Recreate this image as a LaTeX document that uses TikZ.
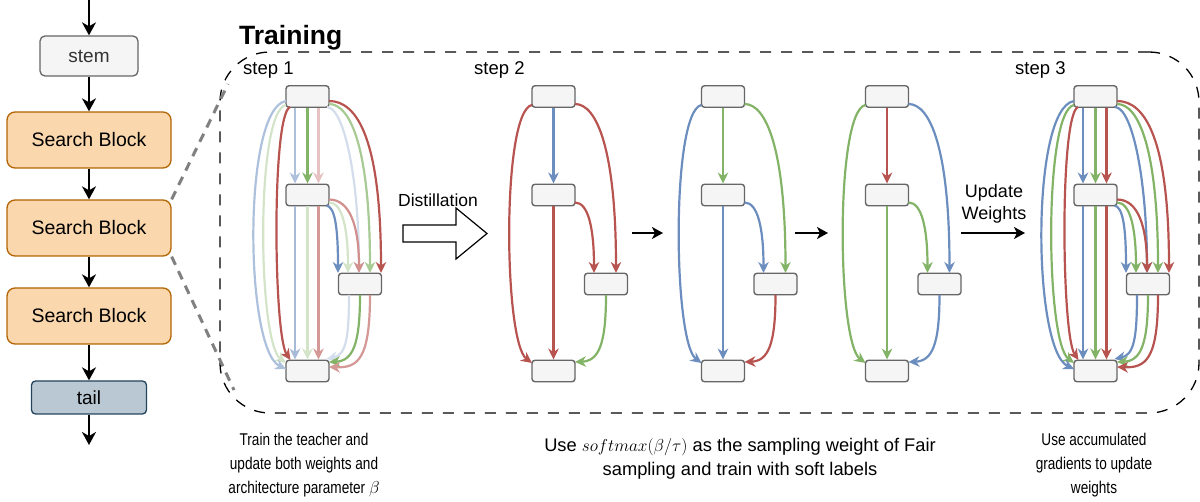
\documentclass[tikz,border=0pt]{standalone}
\usepackage{fontspec}
\setmainfont{Liberation Sans}
\newfontfamily\narrowsans[FakeStretch=0.8]{Liberation Sans}
\usetikzlibrary{arrows.meta,calc}

\definecolor{cR}{HTML}{B85450}
\definecolor{cB}{HTML}{6C8EBF}
\definecolor{cG}{HTML}{82B366}
\definecolor{boxfill}{HTML}{F5F5F5}
\definecolor{boxline}{HTML}{666666}
\definecolor{sbfill}{HTML}{FAD7AC}
\definecolor{sbline}{HTML}{B46504}
\definecolor{tailfill}{HTML}{BAC8D3}
\definecolor{tailline}{HTML}{23445D}
\definecolor{stemtext}{HTML}{333333}
\definecolor{zoomgray}{HTML}{808080}

\newcommand\fsz[2]{\fontsize{#1}{#2}\selectfont}

\tikzset{
  cell/.style={draw=boxline, fill=boxfill, line width=1.4pt, rounded corners=3pt,
    minimum width=43pt, minimum height=21.5pt, inner sep=0pt},
  flow/.style={line width=2.2pt, -{Stealth[length=11pt,width=10.5pt,inset=3.5pt]}},
  blk/.style={line width=1.7pt, -{Stealth[length=13pt,width=14pt,inset=4pt]}},
  harrow/.style={line width=1.5pt, -{Stealth[length=11pt,width=12pt,inset=3pt]}},
  stembox/.style={draw=boxline, fill=boxfill, line width=1.3pt, rounded corners=5pt,
    minimum width=98pt, minimum height=40pt, inner sep=0pt, text=stemtext, font=\fsz{19}{22}},
  sbbox/.style={draw=sbline, fill=sbfill, line width=1.3pt, rounded corners=8pt,
    minimum width=164pt, minimum height=56pt, inner sep=0pt, font=\fsz{19.5}{22}},
  tailbox/.style={draw=tailline, fill=tailfill, line width=1.3pt, rounded corners=4pt,
    minimum width=115pt, minimum height=33pt, inner sep=0pt, font=\fsz{19}{22}},
  framebox/.style={draw, line width=1.3pt, dash pattern=on 11pt off 10pt,
    rounded corners=50pt, minimum width=979pt, minimum height=361pt, inner sep=0pt},
  zoomline/.style={draw=zoomgray, line width=3pt, dash pattern=on 9pt off 7pt},
  steplbl/.style={anchor=base west, inner sep=0pt, font=\fsz{18.5}{22}},
  sidenote/.style={align=center, inner sep=0pt, font=\narrowsans\fsz{17}{24}},
  midnote/.style={align=center, inner sep=0pt, font=\fsz{18.3}{24}},
}

% one cubic connector between two cells
\newcommand\flowcurve[5]{\draw[flow,#1] ($#2$) .. controls ($#3$) and ($#4$) .. ($#5$);}

% the four cells of one block: input (0), middle (1), side (2), output (3)
\newcommand\cellnodes[2]{%
  \node[cell] (#10) at (#2,96.5) {};
  \node[cell] (#11) at (#2,195) {};
  \node[cell] (#12) at ({#2+52.5},284) {};
  \node[cell] (#13) at (#2,371) {};}

% straight connectors 0->1 and 1->3 (prefix, colour, horizontal offset)
\newcommand\eVertA[3]{\draw[flow,#2] ([xshift=#3]#10.south) -- ([xshift=#3]#11.north);}
\newcommand\eVertB[3]{\draw[flow,#2] ([xshift=#3]#11.south) -- ([xshift=#3]#13.north);}
% 0->3 around the left side (outer, middle, inner)
\newcommand\eLeftB[2]{\flowcurve{#2}{(#10)+(-21.5,4.5)}{(#10)+(-65,11.5)}{(#13)+(-63,-21)}{(#13)+(-21.5,-2)}}
\newcommand\eLeftG[2]{\flowcurve{#2}{(#10)+(-21.5,8.5)}{(#10)+(-52,14.5)}{(#13)+(-50,-29)}{(#13)+(-21.5,-8)}}
\newcommand\eLeftR[2]{\flowcurve{#2}{(#10)+(-17.5,10.5)}{(#10)+(-36,18.5)}{(#13)+(-34,-36)}{(#13)+(-17,-11)}}
% 0->2 around the right side (inner, middle, outer)
\newcommand\eRightB[2]{\flowcurve{#2}{(#10)+(19.5,10.5)}{(#10)+(37,11.5)}{(#12)+(-1,-104)}{(#12)+(-1,-11)}}
\newcommand\eRightG[2]{\flowcurve{#2}{(#10)+(21.5,7.5)}{(#10)+(43.5,7.5)}{(#12)+(10,-134)}{(#12)+(10,-11)}}
\newcommand\eRightR[2]{\flowcurve{#2}{(#10)+(21.5,4.5)}{(#10)+(50,4.5)}{(#12)+(21,-144)}{(#12)+(21,-11)}}
% 1->2
\newcommand\eMidB[2]{\flowcurve{#2}{(#11)+(19,10.5)}{(#11)+(27,12)}{(#12)+(-22,-59)}{(#12)+(-22,-11)}}
\newcommand\eMidG[2]{\flowcurve{#2}{(#11)+(21.5,7.5)}{(#11)+(35,7.5)}{(#12)+(-12,-55)}{(#12)+(-12,-11)}}
\newcommand\eMidR[2]{\flowcurve{#2}{(#11)+(21.5,4.5)}{(#11)+(42,4.5)}{(#12)+(-1,-59)}{(#12)+(-1,-11)}}
% 2->3
\newcommand\eLowB[2]{\flowcurve{#2}{(#12)+(-11,11)}{(#12)+(-11,56)}{(#13)+(38,-16)}{(#13)+(19,-12)}}
\newcommand\eLowG[2]{\flowcurve{#2}{(#12)+(0,11)}{(#12)+(0,61)}{(#13)+(45,-10)}{(#13)+(21.5,-9)}}
\newcommand\eLowR[2]{\flowcurve{#2}{(#12)+(10,11)}{(#12)+(10,76)}{(#13)+(50,-3)}{(#13)+(21.5,-4)}}

% a sampled block: one colour per connector (0-1, 0-3, 0-2, 1-2, 1-3, 2-3)
\newcommand\singlecell[7]{%
  \eVertA{#1}{#2}{0pt}
  \eLeftG{#1}{#3}
  \eRightG{#1}{#4}
  \eMidG{#1}{#5}
  \eVertB{#1}{#6}{0pt}
  \eLowG{#1}{#7}}

\begin{document}
\begin{tikzpicture}[x=1pt,y=-1pt]
\useasboundingbox (0,0) rectangle (1200,502);

% ---------------- network column ----------------
\coordinate (netin) at (89,0);
\coordinate (netout) at (89,445);
\node[stembox] (stem) at (89,56) {stem};
\node[sbbox] (sb1) at (89,140) {Search Block};
\node[sbbox] (sb2) at (89,228) {Search Block};
\node[sbbox] (sb3) at (89,316) {Search Block};
\node[tailbox] (tail) at (89,397.5) {tail};
\draw[blk] (netin) -- (stem);
\draw[blk] (stem) -- (sb1);
\draw[blk] (sb1) -- (sb2);
\draw[blk] (sb2) -- (sb3);
\draw[blk] (sb3) -- (tail);
\draw[blk] (tail) -- (netout);

% ---------------- training frame ----------------
\node[framebox] (train) at (709.5,232.5) {};
\coordinate (zoomtop) at (228,84);
\coordinate (zoombot) at (234,390);
\draw[zoomline] (sb2.north east) -- (zoomtop);
\draw[zoomline] (sb2.south east) -- (zoombot);

\node[anchor=base west, inner sep=0pt, font=\fsz{26.5}{30}\bfseries] (title) at (239,45) {Training};
\node[steplbl] (lbl1) at (243,75) {step 1};
\node[steplbl] (lbl2) at (474,75) {step 2};
\node[steplbl] (lbl3) at (1015,75) {step 3};

% ---------------- the five blocks ----------------
\cellnodes{a}{307.5}
\cellnodes{b}{553.5}
\cellnodes{c}{723}
\cellnodes{d}{887}
\cellnodes{e}{1095.5}

% step 1: all candidate paths, faded by weight
\eVertA{a}{cB!55!white}{-12.5pt}
\eVertA{a}{cG}{0pt}
\eVertA{a}{cR!35!white}{11pt}
\eVertB{a}{cB!60!white}{-12.5pt}
\eVertB{a}{cG!35!white}{0pt}
\eVertB{a}{cR!60!white}{11pt}
\eLeftR{a}{cR}
\eLeftG{a}{cG!35!white}
\eLeftB{a}{cB!55!white}
\eRightB{a}{cB!30!white}
\eRightG{a}{cG!70!white}
\eRightR{a}{cR}
\eMidB{a}{cB}
\eMidG{a}{cG!35!white}
\eMidR{a}{cR!65!white}
\eLowB{a}{cB!30!white}
\eLowG{a}{cG}
\eLowR{a}{cR!60!white}

% step 2: sampled paths
\singlecell{b}{cB}{cR}{cR}{cR}{cR}{cG}
\singlecell{c}{cG}{cB}{cG}{cB}{cB}{cR}
\singlecell{d}{cR}{cG}{cB}{cG}{cG}{cB}

% step 3: accumulated paths
\eVertA{e}{cB}{-12.5pt}
\eVertA{e}{cG}{0pt}
\eVertA{e}{cR}{11pt}
\eVertB{e}{cB}{-12.5pt}
\eVertB{e}{cG}{0pt}
\eVertB{e}{cR}{11pt}
\eLeftR{e}{cR}
\eLeftG{e}{cG}
\eLeftB{e}{cB}
\eRightB{e}{cB}
\eRightG{e}{cG}
\eRightR{e}{cR}
\eMidB{e}{cB}
\eMidG{e}{cG}
\eMidR{e}{cR}
\eLowB{e}{cB}
\eLowG{e}{cG}
\eLowR{e}{cR}

% ---------------- arrows between the steps ----------------
\draw[line width=1.2pt, fill=white] (403,225) -- (456,225) -- (456,208) -- (487,233.5)
  -- (456,259) -- (456,242) -- (403,242) -- cycle;
\node[anchor=base west, inner sep=0pt, font=\fsz{17.5}{20}] (dist) at (398,207) {Distillation};

\coordinate (s2a) at (632,233);
\coordinate (s2b) at (663,233);
\coordinate (s3a) at (795,233);
\coordinate (s3b) at (828,233);
\coordinate (uwa) at (961,233);
\coordinate (uwb) at (1025,233);
\draw[harrow] (s2a) -- (s2b);
\draw[harrow] (s3a) -- (s3b);
\draw[harrow] (uwa) -- (uwb);
\node[align=center, inner sep=0pt, font=\fsz{18}{22}] (upd) at (994,203.4) {Update\\Weights};

% ---------------- captions ----------------
\node[sidenote] (cap1) at (304,465) {Train the teacher and\\update both weights and\\architecture parameter $\beta$};
\node[midnote] (cap2) at (740,459) {Use $softmax(\beta/\tau)$ as the sampling weight of Fair\\sampling and train with soft labels};
\node[sidenote] (cap3) at (1094,465) {Use accumulated\\gradients to update\\weights};
\end{tikzpicture}
\end{document}
